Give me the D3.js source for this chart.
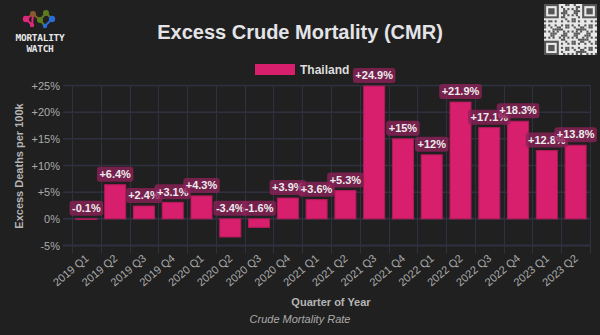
<!DOCTYPE html>
<html>
<head>
<meta charset="utf-8">
<script src="https://cdn.jsdelivr.net/npm/d3@7"></script>
<style>
  html, body { margin: 0; padding: 0; background: #202020; }
  svg { display: block; font-family: "Liberation Sans", Arial, sans-serif; }
</style>
</head>
<body>
<div id="chart"></div>
<script>
// data
const quarters = ["2019 Q1", "2019 Q2", "2019 Q3", "2019 Q4", "2020 Q1", "2020 Q2", "2020 Q3", "2020 Q4",
  "2021 Q1", "2021 Q2", "2021 Q3", "2021 Q4", "2022 Q1", "2022 Q2", "2022 Q3", "2022 Q4", "2023 Q1", "2023 Q2"];
const excessCmr = [-0.1, 6.4, 2.4, 3.1, 4.3, -3.4, -1.6, 3.9, 3.6, 5.3, 24.9, 15, 12, 21.9, 17.1, 18.3, 12.8, 13.8];
const yTicks = [-5, 0, 5, 10, 15, 20, 25];
const seriesName = "Thailand";

const W = 600, H = 335;
const margin = { left: 72, right: 10, top: 85.5, bottom: 89.5 };
const bar_color = "#d81f6e";
const grid_color = "#2f3140";

const svg = d3.select("#chart").append("svg")
  .attr("width", W)
  .attr("height", H);

svg.append("rect").attr("width", W).attr("height", H).attr("fill", "#202020");

const x = d3.scaleBand()
  .domain(quarters)
  .range([margin.left, W - margin.right])
  .paddingInner(0.27)
  .paddingOuter(0.135);

const y = d3.scaleLinear()
  .domain([-5, 25])
  .range([H - margin.bottom, margin.top]);

// plain hyphen for negatives, like the original
const fmt = v => (v > 0 ? "+" : "") + d3.format(".1~f")(v).replace("\u2212", "-") + "%";

// grid
const grid = svg.append("g").attr("stroke", grid_color).attr("stroke-width", 1);
yTicks.forEach(t => {
  grid.append("line")
    .attr("x1", margin.left - 9).attr("x2", W - margin.right)
    .attr("y1", y(t)).attr("y2", y(t))
    .attr("stroke-width", t === 0 || t === -5 ? 2 : 1.5);
});
const bounds = quarters.map(q => x(q) - x.step() * x.paddingInner() / 2);
bounds.push(W - margin.right);
bounds.forEach(b => {
  grid.append("line")
    .attr("x1", Math.round(b) + 0.5).attr("x2", Math.round(b) + 0.5)
    .attr("y1", y(25)).attr("y2", y(-5) + 8);
});

// y axis labels
svg.append("g")
  .selectAll("text")
  .data(yTicks)
  .join("text")
  .attr("x", 60)
  .attr("y", d => y(d) + 4)
  .attr("text-anchor", "end")
  .attr("font-size", 11)
  .attr("fill", "#aaaaaa")
  .text(d => (d > 0 ? "+" : "") + d + "%");

svg.append("text")
  .attr("transform", `translate(23,166) rotate(-90)`)
  .attr("text-anchor", "middle")
  .attr("font-size", 11)
  .attr("font-weight", "bold")
  .attr("fill", "#b5b5b5")
  .text("Excess Deaths per 100k");

// x axis labels
svg.append("g")
  .selectAll("text")
  .data(quarters)
  .join("text")
  .attr("transform", d => `translate(${x(d) + x.bandwidth() / 2 + 3},${y(-5) + 14}) rotate(-40)`)
  .attr("text-anchor", "end")
  .attr("font-size", 11)
  .attr("fill", "#aaaaaa")
  .text(d => d);

svg.append("text")
  .attr("x", (margin.left + W - margin.right) / 2)
  .attr("y", 306)
  .attr("text-anchor", "middle")
  .attr("font-size", 11)
  .attr("font-weight", "bold")
  .attr("fill", "#b5b5b5")
  .text("Quarter of Year");

svg.append("text")
  .attr("x", W / 2)
  .attr("y", 323)
  .attr("text-anchor", "middle")
  .attr("font-size", 11)
  .attr("font-style", "italic")
  .attr("fill", "#aaaaaa")
  .text("Crude Mortality Rate");

// bars
svg.append("g")
  .selectAll("rect")
  .data(excessCmr)
  .join("rect")
  .attr("x", (d, i) => x(quarters[i]))
  .attr("width", x.bandwidth())
  .attr("y", d => y(Math.max(d, 0)))
  .attr("height", d => Math.abs(y(d) - y(0)))
  .attr("fill", bar_color)
  .attr("stroke", "#b51a5c")
  .attr("stroke-width", 1);

// value labels, later ones drawn over earlier ones
const labels = svg.append("g");
excessCmr.forEach((d, i) => {
  const cx = x(quarters[i]) + x.bandwidth() / 2;
  const bottom = y(Math.max(d, 0)) - 3;
  const g = labels.append("g");
  const t = g.append("text")
    .attr("x", cx)
    .attr("y", bottom - 3.8)
    .attr("text-anchor", "middle")
    .attr("font-size", 11)
    .attr("font-weight", "bold")
    .attr("fill", "#ececec")
    .text(fmt(d));
  const w = t.node().getComputedTextLength();
  g.insert("rect", "text")
    .attr("x", cx - w / 2 - 2.5)
    .attr("y", bottom - 15)
    .attr("width", w + 5)
    .attr("height", 15)
    .attr("rx", 3)
    .attr("fill", "rgba(140, 32, 88, 0.8)");
});

// legend
svg.append("rect")
  .attr("x", 255).attr("y", 64).attr("width", 40).attr("height", 11)
  .attr("fill", bar_color);
svg.append("text")
  .attr("x", 300).attr("y", 74)
  .attr("font-size", 12)
  .attr("font-weight", "bold")
  .attr("fill", "#dddddd")
  .text(seriesName);

// title
svg.append("text")
  .attr("x", W / 2).attr("y", 39)
  .attr("text-anchor", "middle")
  .attr("font-size", 20)
  .attr("font-weight", "bold")
  .attr("fill", "#e4e4e8")
  .text("Excess Crude Mortality (CMR)");

// logo
const logo = svg.append("g");
const nodes = [[26, 19, 3.2, "#e0287a"], [32, 25, 2.2, "#e0287a"], [33, 14, 3, "#8a5a2b"],
  [40, 20, 3, "#5c7a1f"], [46, 13, 3, "#5c7a1f"], [52, 19, 3.2, "#2a6bd6"], [45, 26, 2.2, "#2a6bd6"]];
const links = [[0, 1], [1, 2], [2, 3], [3, 4], [4, 5], [5, 6], [0, 2], [3, 6]];
links.forEach(([a, b]) => {
  logo.append("line")
    .attr("x1", nodes[a][0]).attr("y1", nodes[a][1])
    .attr("x2", nodes[b][0]).attr("y2", nodes[b][1])
    .attr("stroke", nodes[a][3]).attr("stroke-width", 2);
});
nodes.forEach(n => logo.append("circle").attr("cx", n[0]).attr("cy", n[1]).attr("r", n[2]).attr("fill", n[3]));
logo.append("text").attr("x", 40).attr("y", 41).attr("text-anchor", "middle")
  .attr("font-family", "DejaVu Sans Mono, monospace").attr("font-weight", "bold")
  .attr("font-size", 9.5).attr("fill", "#e6e6e6").attr("letter-spacing", -0.3).text("MORTALITY");
logo.append("text").attr("x", 40).attr("y", 52).attr("text-anchor", "middle")
  .attr("font-family", "DejaVu Sans Mono, monospace").attr("font-weight", "bold")
  .attr("font-size", 9.5).attr("fill", "#e6e6e6").attr("letter-spacing", -0.3).text("WATCH");

// qr code (decorative)
const qr = svg.append("g").attr("transform", "translate(544,4)");
const n = 25, m = 53 / n;
qr.append("rect").attr("width", 53).attr("height", 51).attr("fill", "#e8e8e8");
for (let r = 0; r < n; r++) {
  for (let c = 0; c < n; c++) {
    const inFinder = (r < 8 && c < 8) || (r < 8 && c >= n - 8) || (r >= n - 8 && c < 8);
    if (inFinder) continue;
    const h = ((r * 73 + c * 151 + r * c * 37) % 11);
    if (h < 5) {
      qr.append("rect").attr("x", c * m).attr("y", r * m * 51 / 53)
        .attr("width", m).attr("height", m * 51 / 53).attr("fill", "#555");
    }
  }
}
[[0, 0], [n - 7, 0], [0, n - 7]].forEach(([c, r]) => {
  const gx = c * m, gy = r * m * 51 / 53, s = 7 * m;
  qr.append("rect").attr("x", gx).attr("y", gy).attr("width", s).attr("height", s * 51 / 53).attr("fill", "#555");
  qr.append("rect").attr("x", gx + m).attr("y", gy + m).attr("width", s - 2 * m).attr("height", (s - 2 * m) * 51 / 53).attr("fill", "#e8e8e8");
  qr.append("rect").attr("x", gx + 2 * m).attr("y", gy + 2 * m).attr("width", s - 4 * m).attr("height", (s - 4 * m) * 51 / 53).attr("fill", "#555");
});
</script>
</body>
</html>
